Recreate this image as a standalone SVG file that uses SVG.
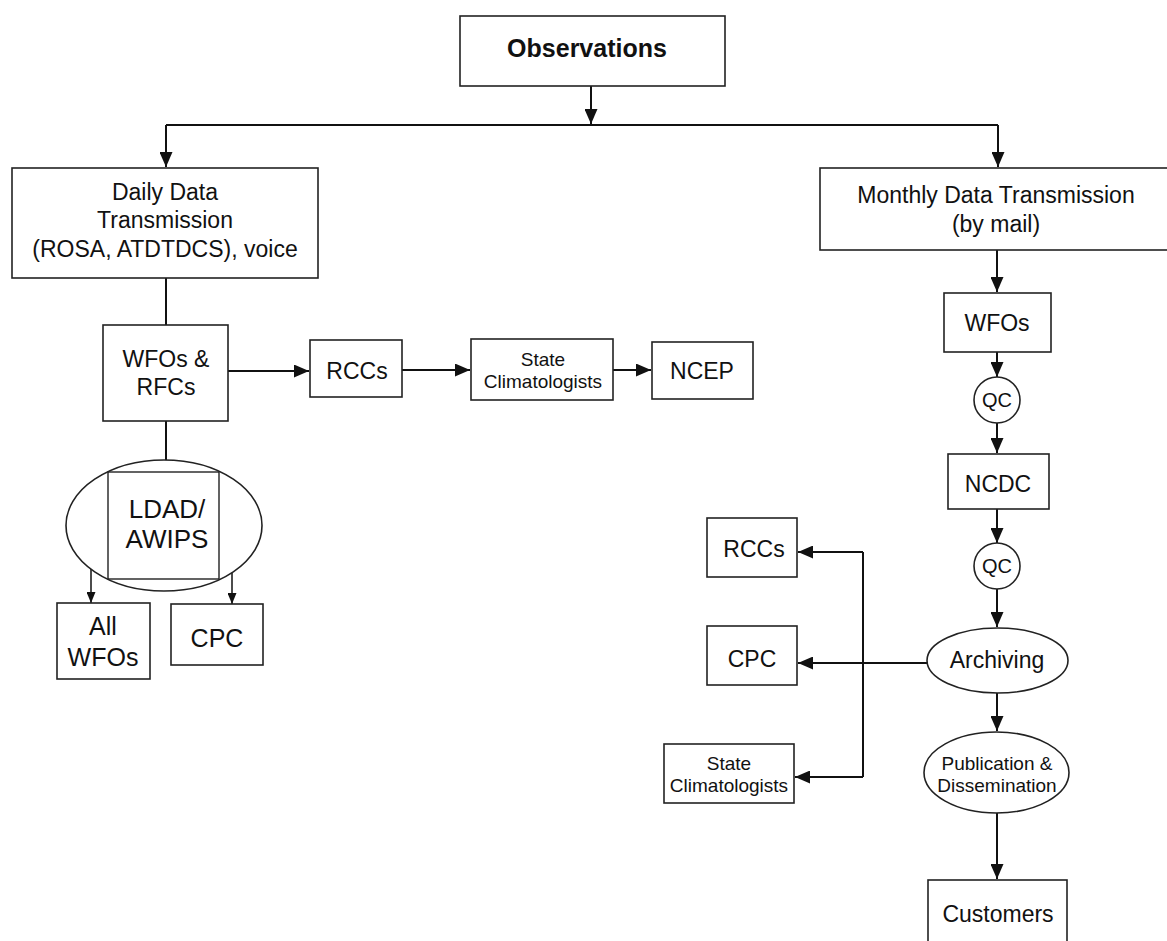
<svg xmlns="http://www.w3.org/2000/svg" width="1167" height="941" viewBox="0 0 1167 941">
<defs>
<marker id="a" markerUnits="userSpaceOnUse" markerWidth="15" markerHeight="13" refX="15" refY="6.5" orient="auto"><path d="M0,0 L15,6.5 L0,13 Z" fill="#111"/></marker>
<marker id="s" markerUnits="userSpaceOnUse" markerWidth="11" markerHeight="9" refX="11" refY="4.5" orient="auto"><path d="M0,0 L11,4.5 L0,9 Z" fill="#111"/></marker>
</defs>
<style>
.b{fill:#fff;stroke:#222;stroke-width:1.6}
.c{fill:none;stroke:#111;stroke-width:2}
.t{font-family:"Liberation Sans",Arial,Helvetica,sans-serif;fill:#111;text-anchor:middle}
.m{font-size:23px}
.l{font-size:25px}
.sm{font-size:19px}
.q{font-size:20px}
</style>
<rect width="1167" height="941" fill="#fff"/>
<g id="connectors">
<path class="c" d="M591,86 V124" marker-end="url(#a)"/>
<path class="c" d="M166,125 H998"/>
<path class="c" d="M166,125 V167" marker-end="url(#a)"/>
<path class="c" d="M998,125 V167" marker-end="url(#a)"/>
<path class="c" d="M166,278 V325"/>
<path class="c" d="M166,421 V460"/>
<path class="c" d="M228,371 H309" marker-end="url(#a)"/>
<path class="c" d="M402,370 H470" marker-end="url(#a)"/>
<path class="c" d="M613,370 H651" marker-end="url(#a)"/>
<path class="c" d="M91,569 V603" marker-end="url(#s)" style="stroke-width:1.5"/>
<path class="c" d="M232,573 V604" marker-end="url(#s)" style="stroke-width:1.5"/>
<path class="c" d="M997,250 V292" marker-end="url(#a)"/>
<path class="c" d="M997,352 V377" marker-end="url(#a)"/>
<path class="c" d="M997,423 V453" marker-end="url(#a)"/>
<path class="c" d="M997,509 V543" marker-end="url(#a)"/>
<path class="c" d="M997,589 V627" marker-end="url(#a)"/>
<path class="c" d="M927,663 H798" marker-end="url(#a)"/>
<path class="c" d="M863,552 V777"/>
<path class="c" d="M863,552 H798" marker-end="url(#a)"/>
<path class="c" d="M863,777 H795" marker-end="url(#a)"/>
<path class="c" d="M997,693 V731" marker-end="url(#a)"/>
<path class="c" d="M997,813 V879" marker-end="url(#a)"/>
</g>
<g id="observations"><rect class="b" x="460" y="16" width="265" height="70"/><text class="t" x="587" y="57" style="font-size:25px;font-weight:bold">Observations</text></g>
<g id="daily"><rect class="b" x="12" y="168" width="306" height="110"/><text class="t m" x="165" y="200">Daily Data</text><text class="t m" x="165" y="228">Transmission</text><text class="t m" x="165" y="257">(ROSA, ATDTDCS), voice</text></g>
<g id="monthly"><rect class="b" x="820" y="168" width="352" height="82"/><text class="t m" x="996" y="203">Monthly Data Transmission</text><text class="t m" x="996" y="232">(by mail)</text></g>
<g id="wfos-rfcs"><rect class="b" x="103" y="325" width="125" height="96"/><text class="t m" x="166" y="367">WFOs &amp;</text><text class="t m" x="166" y="395">RFCs</text></g>
<g id="rccs-1"><rect class="b" x="310" y="340" width="92" height="57"/><text class="t m" x="357" y="379">RCCs</text></g>
<g id="state-1"><rect class="b" x="471" y="339" width="142" height="61"/><text class="t sm" x="543" y="366">State</text><text class="t sm" x="543" y="388">Climatologists</text></g>
<g id="ncep"><rect class="b" x="652" y="342" width="101" height="57"/><text class="t m" x="702" y="379">NCEP</text></g>
<g id="ldad"><ellipse class="b" cx="164" cy="525.5" rx="98" ry="65.5"/><rect x="108" y="472" width="111" height="107" fill="none" stroke="#222" stroke-width="1.4"/><text class="t" x="167" y="518" style="font-size:26px">LDAD/</text><text class="t" x="167" y="548" style="font-size:26px">AWIPS</text></g>
<g id="all-wfos"><rect class="b" x="57" y="603" width="93" height="76"/><text class="t l" x="103" y="635">All</text><text class="t l" x="103" y="666">WFOs</text></g>
<g id="cpc-1"><rect class="b" x="171" y="604" width="92" height="61"/><text class="t l" x="217" y="647">CPC</text></g>
<g id="wfos"><rect class="b" x="944" y="293" width="107" height="59"/><text class="t m" x="997" y="331">WFOs</text></g>
<g id="qc-1"><circle class="b" cx="997" cy="400" r="23"/><text class="t q" x="997" y="407">QC</text></g>
<g id="ncdc"><rect class="b" x="948" y="454" width="101" height="55"/><text class="t m" x="998" y="492">NCDC</text></g>
<g id="qc-2"><circle class="b" cx="997" cy="566" r="23"/><text class="t q" x="997" y="573">QC</text></g>
<g id="rccs-2"><rect class="b" x="707" y="518" width="90" height="59"/><text class="t m" x="754" y="557">RCCs</text></g>
<g id="cpc-2"><rect class="b" x="707" y="626" width="90" height="59"/><text class="t m" x="752" y="667">CPC</text></g>
<g id="state-2"><rect class="b" x="664" y="744" width="130" height="59"/><text class="t sm" x="729" y="770">State</text><text class="t sm" x="729" y="792">Climatologists</text></g>
<g id="archiving"><ellipse class="b" cx="997.5" cy="660.5" rx="70.5" ry="32.5"/><text class="t m" x="997" y="668">Archiving</text></g>
<g id="publication"><ellipse class="b" cx="996.5" cy="772.5" rx="72.5" ry="40.5"/><text class="t sm" x="997" y="770">Publication &amp;</text><text class="t sm" x="997" y="792">Dissemination</text></g>
<g id="customers"><rect class="b" x="928" y="880" width="139" height="75"/><text class="t m" x="998" y="922">Customers</text></g>
</svg>
